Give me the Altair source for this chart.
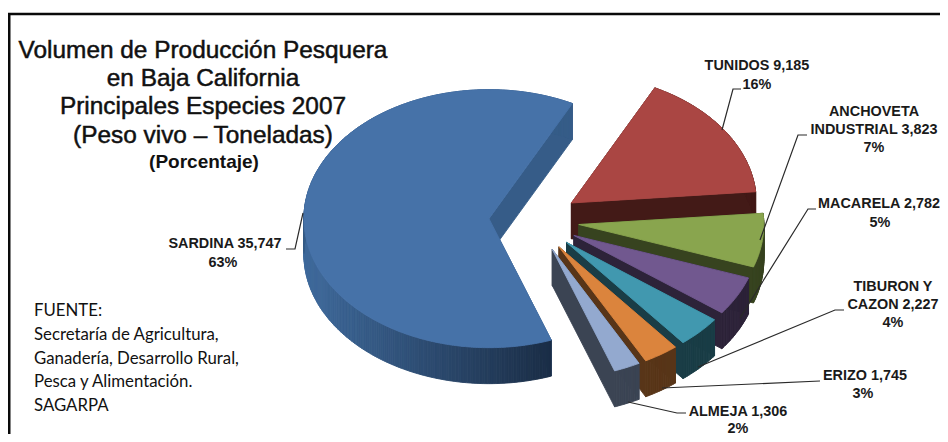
import math
import altair as alt
import pandas as pd

species = ["SARDINA", "TUNIDOS", "ANCHOVETA INDUSTRIAL", "MACARELA", "TIBURON Y CAZON", "ERIZO", "ALMEJA"]
volumes = [35747, 9185, 3823, 2782, 2227, 1745, 1306]
top_colors = ["#4672a8", "#aa4643", "#89a54e", "#71588f", "#4198af", "#db843d", "#93a9cf"]
wall_colors = ["#2a4a70", "#431a17", "#37431f", "#2d2339", "#1a3d46", "#583518", "#3b4453"]

title_lines = ["Volumen de Producción Pesquera", "en Baja California", "Principales Especies 2007", "(Peso vivo – Toneladas)"]
subtitle = "(Porcentaje)"
source_lines = ["FUENTE:", "Secretaría de Agricultura,", "Ganadería, Desarrollo Rural,", "Pesca y Alimentación.", "SAGARPA"]

# text, centre x, centre y (page pixels)
labels = [
    ("TUNIDOS 9,185", 757, 66), ("16%", 757, 85),
    ("ANCHOVETA", 874, 112), ("INDUSTRIAL 3,823", 874, 130), ("7%", 874, 148),
    ("MACARELA 2,782", 879, 204), ("5%", 880, 223),
    ("TIBURON Y", 893, 287), ("CAZON 2,227", 893, 305), ("4%", 893, 323),
    ("ERIZO 1,745", 865, 376), ("3%", 863, 394),
    ("ALMEJA 1,306", 738, 412), ("2%", 738, 428.5),
    ("SARDINA 35,747", 225, 244), ("63%", 223, 263),
]
leaders = [
    [(722, 130), (733, 89), (741, 89)],
    [(760, 240), (798, 135), (807, 135)],
    [(740, 318), (808, 209), (816, 209)],
    [(698, 367), (835, 310), (844, 310)],
    [(662, 388), (820, 381)],
    [(628, 402), (677, 413), (686, 413)],
    [(303, 213), (295, 249), (286, 249)],
]

W, H = 932, 426
OX, OY = 8, 8
CX, CY, RX, RY = 534.0, 220.6, 185.0, 129.0
EXPLODE, DEPTH = 0.244, 36.0
START = 160.3


def pt(cx, cy, deg, dy=0.0):
    a = math.radians(deg)
    return [cx + RX * math.sin(a) - OX, cy - RY * math.cos(a) + dy - OY]


def feature(ring, color):
    ring = ring + [ring[0]]
    return {"type": "Feature", "geometry": {"type": "Polygon", "coordinates": [ring]},
            "properties": {"c": color}}


def mix(a, b, t):
    ca = [int(a[i:i + 2], 16) for i in (1, 3, 5)]
    cb = [int(b[i:i + 2], 16) for i in (1, 3, 5)]
    return "#" + "".join(f"{round(x + (y - x) * t):02x}" for x, y in zip(ca, cb))


features = []
total = sum(volumes)
start = START
slices = []
for name, v, top, wall in zip(species, volumes, top_colors, wall_colors):
    span = 360.0 * v / total
    slices.append((name, start, start + span, top, wall))
    start += span

for name, a0, a1, top, wall in slices:
    mid = math.radians((a0 + a1) / 2)
    cx = CX + EXPLODE * RX * math.sin(mid)
    cy = CY - EXPLODE * RY * math.cos(mid)
    apex = [cx - OX, cy - OY]
    apex_low = [cx - OX, cy - OY + DEPTH]
    steps = max(6, int((a1 - a0) / 0.75))
    angles = [a0 + (a1 - a0) * i / steps for i in range(steps + 1)]
    # radial walls
    for a in (a0, a1):
        color = "#365c88" if name == "SARDINA" else wall
        features.append(feature([apex, pt(cx, cy, a), pt(cx, cy, a, DEPTH), apex_low], color))
    # rim wall
    for p, q in zip(angles[:-1], angles[1:]):
        color = wall
        if name == "SARDINA":
            x = (pt(cx, cy, p)[0] + OX - 304) / 245
            color = mix("#3f6a9c", "#1b2e47", min(1.0, max(0.0, x)))
            if p > 270:
                color = "#365c88"
        features.append(feature([pt(cx, cy, p), pt(cx, cy, q), pt(cx, cy, q, DEPTH), pt(cx, cy, p, DEPTH)], color))
    # top face
    features.append(feature([apex] + [pt(cx, cy, a) for a in angles], top))

for i, f in enumerate(features):
    f["properties"]["i"] = i

pie = alt.Chart(alt.Data(values=features)).mark_geoshape(strokeWidth=0.9).encode(
    fill=alt.Fill("properties.c:N", scale=None, legend=None),
    stroke=alt.Stroke("properties.c:N", scale=None, legend=None),
    order=alt.Order("properties.i:Q"),
).project(type="identity", scale=1, translate=[0, 0])

pxs = alt.Scale(domain=[0, W], range=[0, W])
pys = alt.Scale(domain=[0, H], range=[0, H])


def X(f):
    return alt.X(f, scale=pxs, axis=None)


def Y(f):
    return alt.Y(f, scale=pys, axis=None)


leader_df = pd.DataFrame([
    {"id": i, "k": k, "x": x - OX, "y": y - OY}
    for i, line in enumerate(leaders) for k, (x, y) in enumerate(line)
])
leader = alt.Chart(leader_df).mark_line(color="#2a2a2a", strokeWidth=1.2).encode(
    x=X("x:Q"), y=Y("y:Q"), detail="id:N", order="k:Q")

frame_df = pd.DataFrame({"id": [0, 0, 0], "k": [0, 1, 2], "x": [1.2, 1.2, W], "y": [H, 6.0, 6.0]})
frame = alt.Chart(frame_df).mark_line(color="#0a0a0a", strokeWidth=2.6).encode(
    x=X("x:Q"), y=Y("y:Q"), detail="id:N", order="k:Q")

label_df = pd.DataFrame([{"t": t, "x": x - OX, "y": y - OY} for t, x, y in labels])
label_text = alt.Chart(label_df).mark_text(
    font="Liberation Sans", fontSize=14.4, fontWeight="bold", color="#1a1a1a", align="center", baseline="middle"
).encode(x=X("x:Q"), y=Y("y:Q"), text="t:N")

title_df = pd.DataFrame({"t": title_lines, "x": [203 - OX] * 4, "y": [y - OY for y in (51, 79, 107, 136)]})
title_text = alt.Chart(title_df).mark_text(
    font="Liberation Sans", fontSize=24.4, color="#111111", stroke="#111111", strokeWidth=0.5,
    align="center", baseline="middle"
).encode(x=X("x:Q"), y=Y("y:Q"), text="t:N")

sub_df = pd.DataFrame({"t": [subtitle], "x": [204 - OX], "y": [162 - OY]})
sub_text = alt.Chart(sub_df).mark_text(
    font="Liberation Sans", fontSize=19, fontWeight="bold", color="#111111", align="center", baseline="middle"
).encode(x=X("x:Q"), y=Y("y:Q"), text="t:N")

src_df = pd.DataFrame({"t": source_lines, "x": [34 - OX] * 5, "y": [y - OY for y in (311, 335, 359, 382, 406)]})
src_text = alt.Chart(src_df).mark_text(
    font="Lato", fontSize=16.8, color="#111111", align="left", baseline="middle"
).encode(x=X("x:Q"), y=Y("y:Q"), text="t:N")

chart = alt.layer(pie, leader, frame, label_text, title_text, sub_text, src_text).resolve_scale(
    x="shared", y="shared"
).properties(width=W, height=H, padding=0, autosize=alt.AutoSizeParams(type="none")).configure_view(stroke=None)

chart.save("out.html", embed_options={"renderer": "svg", "actions": False})
